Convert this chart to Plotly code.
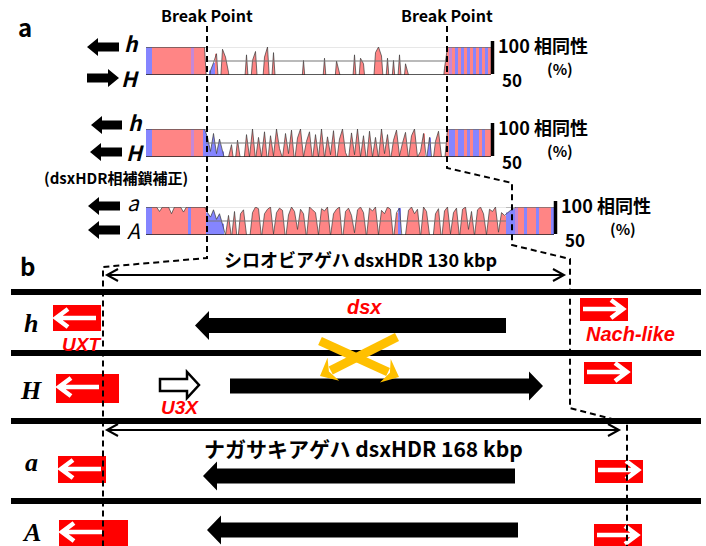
import math
import plotly.graph_objects as go

W, H = 706, 546

# ---------------- data ----------------
# Panel a: sequence identity (%) per ~3 px window: left flank / dsxHDR / right flank
t1_left = [100, 100, 100, 100, 100, 100, 100, 100, 100, 100,
           100, 100, 100, 100, 100, 100, 100, 100, 100, 100]
t1_left_cols = "bbpppppppp pppppmpppp"
t1_mid = [10, 58, 72, 88, 10, 96, 82, 55, 10, 10,
          10, 10, 10, 86, 10, 76, 92, 10, 10, 82,
          100, 10, 90, 10, 10, 10, 10, 10, 10, 10,
          10, 10, 76, 10, 10, 10, 10, 10, 10, 80,
          10, 10, 10, 75, 10, 10, 10, 10, 10, 86,
          10, 80, 70, 10, 10, 10, 90, 100, 84, 10,
          80, 10, 76, 10, 86, 10, 70, 10, 10, 10,
          10, 10, 10, 10, 10, 10, 10, 10, 10, 62]
t1_mid_cols = "pbbppppppp pppppppppp pppppppppp pppppppppp pppppppppp pppppppppp pppppppppp pppppppppp"
t1_right = [100, 100, 100, 100, 100, 100, 100, 100, 100, 100, 100, 100, 100, 100, 100]
t1_right_cols = "pmpbpbpbpbpbpbp"

t2_left = [100, 100, 100, 100, 100, 100, 100, 100, 100, 100,
           100, 100, 100, 100, 100, 100, 100, 100, 100, 100]
t2_left_cols = "bbpppppppp pppppmpppb"
t2_mid = [85, 60, 92, 56, 82, 60, 40, 50, 72, 30,
          80, 45, 35, 90, 50, 100, 45, 85, 50, 95,
          40, 88, 52, 100, 65, 48, 92, 56, 98, 42,
          84, 100, 50, 78, 95, 45, 90, 50, 100, 48,
          86, 54, 97, 40, 82, 100, 58, 46, 93, 54,
          100, 50, 88, 42, 96, 50, 85, 48, 100, 56,
          90, 44, 80, 98, 52, 75, 94, 47, 88, 100,
          50, 60, 92, 45, 85, 35, 78, 96, 50, 40]
t2_mid_cols = "bbbbbbpppp pppppppppp pppppppppp pppppppppp pppppppppp pppppppppp pppppppppp pppbbppppp"
t2_right = [100, 100, 100, 100, 100, 100, 100, 100, 100, 100, 100, 100, 100, 100, 100]
t2_right_cols = "pbbpbbpbpbbpbpp"

t3_left = [100, 100, 100, 100, 92, 100, 100, 100, 88, 100,
           100, 100, 91, 100, 100, 100, 100, 100, 100, 100]
t3_left_cols = "bbpppppppp ppppbppppp"
t3_mid = [90, 82, 95, 78, 88, 70, 50, 85, 45, 92,
          35, 88, 95, 50, 40, 90, 100, 97, 45, 88,
          96, 100, 52, 90, 98, 94, 42, 86, 100, 92,
          60, 96, 88, 45, 100, 95, 90, 50, 97, 93,
          100, 48, 88, 96, 100, 40, 92, 98, 85, 54,
          95, 100, 90, 46, 98, 93, 100, 50, 94, 88,
          100, 96, 42, 90, 98, 35, 50, 94, 100, 88,
          96, 45, 100, 92, 50, 35, 88, 97, 40, 93,
          100, 52, 90, 98, 45, 96, 100, 60, 92, 48,
          95, 100, 88, 50, 96, 92, 100, 55, 90, 85]
t3_mid_cols = "bbbbbbpppp pppppppppp pppppppppp pppppppppp pppppppppp pppppppppp ppppbppppp pppppppppp pppppppppp pppppppppp"
t3_right = [90, 94, 97, 100, 100, 100, 100, 100, 100, 100, 100, 100, 100, 100, 100, 100]
t3_right_cols = "bbbmppbpppbppppb"

track_left_labels = [("h", "H"), ("h", "H"), ("a", "A")]

# Panel b: gene schematic (positions along the drawn genome axis)
row_names = ["h", "H", "a", "A"]
dsx_tail = [506, 230, 515, 518]
dsx_tip = [195, 543, 203, 207]
uxt_start = [53, 56, 58, 59]
uxt_end = [101, 119, 106, 128]
nach_start = [580, 584, 595, 594]
nach_end = [628, 632, 643, 642]
hdr_130 = (107, 564)
hdr_168 = (107, 619)

# ---------------- styles ----------------
PINK, BLUE, MAUVE = "#FF8585", "#8585FF", "#C488D8"
col_map = {"p": PINK, "b": BLUE, "m": MAUVE}
RED = "#FF0000"
YEL = "#FFC000"
JP = "Noto Sans CJK JP"
ARIAL = "Liberation Sans"

fig = go.Figure()
fig.add_trace(go.Scatter(x=[0], y=[0], mode="markers", marker=dict(opacity=0),
                         hoverinfo="skip", showlegend=False))

shapes = []
annots = []


def txt(x, y, s, size=14, color="black", family=JP, xanchor="center", yanchor="middle"):
    annots.append(dict(x=x, y=y, xref="x", yref="y", text=s, showarrow=False,
                       font=dict(size=size, color=color, family=family),
                       xanchor=xanchor, yanchor=yanchor))


def path(d, fill=None, color="black", width=0, dash=None, layer="above"):
    sh = dict(type="path", path=d, xref="x", yref="y", layer=layer,
              line=dict(color=color, width=width))
    if fill:
        sh["fillcolor"] = fill
    if dash:
        sh["line"]["dash"] = dash
    shapes.append(sh)


def block_arrow(x_tail, x_tip, y, bh, hh, hl):
    d = 1 if x_tip > x_tail else -1
    xb = x_tip - d * hl
    return (f"M{x_tail},{y-bh} L{xb},{y-bh} L{xb},{y-hh} L{x_tip},{y} "
            f"L{xb},{y+hh} L{xb},{y+bh} L{x_tail},{y+bh} Z")


def vhead(x_tip, y, d, L=10, hw=5):
    return f"M{x_tip - d*L},{y-hw} L{x_tip},{y} L{x_tip - d*L},{y+hw}"


# ---------------- panel a tracks ----------------
tracks = [
    (t1_left, t1_mid, t1_right, t1_left_cols + t1_mid_cols + t1_right_cols, 146, 47, 75),
    (t2_left, t2_mid, t2_right, t2_left_cols + t2_mid_cols + t2_right_cols, 146, 129, 157),
    (t3_left, t3_mid, t3_right, t3_left_cols + t3_mid_cols + t3_right_cols, 146, 207, 235),
]
BIN = 3
layout_axes = {}
for k, (L, M, R, cols, px0, ptop, pbot) in enumerate(tracks):
    ax = k + 2
    vals = L + M + R
    cols = cols.replace(" ", "")
    n = len(vals)
    px1 = px0 + n * BIN
    xr, yr = f"x{ax}", f"y{ax}"
    nl, nm = len(L), len(M)
    shapes.append(dict(type="line", xref=xr, yref=yr, x0=nl, x1=nl + nm, y0=100, y1=100,
                       line=dict(color="#d0d0d0", width=1), layer="below"))
    i = 0
    while i < n:
        j = i
        while j + 1 < n and cols[j + 1] == cols[i]:
            j += 1
        xs = [i] + [t + 0.5 for t in range(i, j + 1)] + [j + 1]
        ys = [vals[i]] + vals[i:j + 1] + [vals[j]]
        fig.add_trace(go.Scatter(x=xs, y=ys, mode="lines", fill="tozeroy",
                                 fillcolor=col_map[cols[i]], line=dict(width=0),
                                 xaxis=xr, yaxis=yr, showlegend=False, hoverinfo="skip"))
        i = j + 1
    xs = [0] + [t + 0.5 for t in range(n)] + [n]
    ys = [vals[0]] + vals + [vals[-1]]
    fig.add_trace(go.Scatter(x=xs, y=ys, mode="lines", line=dict(color="#3a3a3a", width=0.7),
                             xaxis=xr, yaxis=yr, showlegend=False, hoverinfo="skip"))
    layout_axes[f"xaxis{ax}"] = dict(domain=[px0 / W, px1 / W], range=[0, n], visible=False,
                                     anchor=yr, fixedrange=True)
    layout_axes[f"yaxis{ax}"] = dict(domain=[1 - pbot / H, 1 - ptop / H], range=[50, 100],
                                     visible=False, anchor=xr, fixedrange=True)
    shapes.append(dict(type="line", xref=xr, yref=yr, x0=nl, x1=nl + nm, y0=75, y1=75,
                       line=dict(color="#777777", width=1.2)))
    shapes.append(dict(type="line", xref=xr, yref=yr, x0=0, x1=nl, y0=100, y1=100,
                       line=dict(color="#555555", width=1.2)))
    shapes.append(dict(type="line", xref=xr, yref=yr, x0=nl + nm, x1=n, y0=100, y1=100,
                       line=dict(color="#777777", width=1)))
    shapes.append(dict(type="line", xref=xr, yref=yr, x0=0, x1=n, y0=50, y1=50,
                       line=dict(color="#222222", width=1.5)))
    shapes.append(dict(type="line", xref="x", yref="y", x0=px1 + 1.5, x1=px1 + 1.5,
                       y0=ptop - 6, y1=pbot - 1, line=dict(color="black", width=3.5)))
    txt(px1 + 5, ptop - 2, "<b>100 相同性</b>", size=18, xanchor="left")
    txt(px1 + 69, ptop + 21, "<b>(%)</b>", size=15)
    txt(px1 + 21, pbot + 4, "<b>50</b>", size=17)

a_arrows = [
    [(119, 87, 47), (87, 119, 78)],
    [(122, 91, 125), (122, 90, 152)],
    [(120, 88, 206), (120, 88, 230)],
]
a_lab_pos = [[(131, 43), (130, 78)], [(135, 122), (135, 152)], [(133, 202), (133, 230)]]
for k in range(3):
    for j in range(2):
        xt, xp, y = a_arrows[k][j]
        path(block_arrow(xt, xp, y, 4.5, 9, 11), fill="black")
        lx, ly = a_lab_pos[k][j]
        lab = track_left_labels[k][j]
        s = f"<b><i>{lab}</i></b>" if k < 2 else f"<i>{lab}</i>"
        txt(lx, ly, s, size=21)

txt(42, 177, "<b>(dsxHDR相補鎖補正)</b>", size=15, xanchor="left")
txt(25, 26, "<b>a</b>", size=24)
txt(27, 265, "<b>b</b>", size=24)
txt(207, 15, "<b>Break Point</b>", size=16)
txt(447, 15, "<b>Break Point</b>", size=16)

# ---------------- panel b ----------------
for y in [292, 353, 421, 501]:
    shapes.append(dict(type="line", xref="x", yref="y", x0=11, x1=701, y0=y, y1=y,
                       line=dict(color="black", width=6)))

row_y = {"dsx": [325.5, 386, 476, 530],
         "uxt": [(305, 331, 318), (374, 403, 387), (456, 483, 469), (520, 546, 532)],
         "nach": [(298, 321, 309), (362, 384, 372), (460, 483, 470), (524, 546, 535)]}
for r in range(4):
    path(block_arrow(dsx_tail[r], dsx_tip[r], row_y["dsx"][r], 7.5, 14.5, 14), fill="black")
    y0, y1, ya = row_y["uxt"][r]
    shapes.append(dict(type="rect", xref="x", yref="y", x0=uxt_start[r], x1=uxt_end[r],
                       y0=y0, y1=y1, fillcolor=RED, line=dict(width=0)))
    tip = uxt_start[r] + 3
    path(f"M{tip + 40},{ya} L{tip + 2},{ya} " + vhead(tip, ya, -1, 12, 9), color="white", width=4.5)
    y0, y1, ya = row_y["nach"][r]
    shapes.append(dict(type="rect", xref="x", yref="y", x0=nach_start[r], x1=nach_end[r],
                       y0=y0, y1=y1, fillcolor=RED, line=dict(width=0)))
    tip = nach_start[r] + 43
    path(f"M{nach_start[r] + 3},{ya} L{tip - 2},{ya} " + vhead(tip, ya, 1, 12, 9), color="white", width=4.5)
    txt(31, [323, 390, 462, 532][r], f"<b><i>{row_names[r]}</i></b>", size=26, family="Liberation Serif")

path(block_arrow(160, 199, 385, 6, 13, 12), fill="white", color="black", width=2.5)

for (xa, ya, xb, yb) in [(320, 341, 399, 377), (397, 337, 320, 376)]:
    dx, dy = xb - xa, yb - ya
    ln = math.hypot(dx, dy)
    ux, uy = dx / ln, dy / ln
    nx, ny = -uy, ux
    bx, by = xb - ux * 15, yb - uy * 15
    shapes.append(dict(type="line", xref="x", yref="y", x0=xa, y0=ya, x1=bx + ux * 3, y1=by + uy * 3,
                       line=dict(color=YEL, width=9)))
    path(f"M{xb},{yb} L{bx + nx * 13},{by + ny * 13} L{bx + ux * 5},{by + uy * 5} "
         f"L{bx - nx * 13},{by - ny * 13} Z", fill=YEL)

for (xa, xb), y in [(hdr_130, 275), (hdr_168, 430)]:
    shapes.append(dict(type="line", xref="x", yref="y", x0=xa + 1, x1=xb - 1, y0=y, y1=y,
                       line=dict(color="black", width=2)))
    path(vhead(xa, y, -1, 11, 6), color="black", width=2)
    path(vhead(xb, y, 1, 11, 6), color="black", width=2)

txt(222, 259, "<b>シロオビアゲハ dsxHDR 130 kbp</b>", size=18, xanchor="left")
txt(202, 448, "<b>ナガサキアゲハ dsxHDR 168 kbp</b>", size=21, xanchor="left")

txt(364, 307, "<b><i>dsx</i></b>", size=20, color=RED, family=ARIAL)
txt(81, 344, "<b><i>UXT</i></b>", size=19, color=RED, family=ARIAL)
txt(630, 334, "<b><i>Nach-like</i></b>", size=20, color=RED, family=ARIAL)
txt(180, 407, "<b><i>U3X</i></b>", size=19, color=RED, family=ARIAL)

left_bp = [(207, 26), (207, 258), (103, 267), (103, 546)]
right_bp = [(447, 26), (447, 168), (512, 183), (512, 245), (570, 259), (570, 408), (627, 423), (627, 546)]
for pts in [left_bp, right_bp]:
    d = "M" + " L".join(f"{x},{y}" for x, y in pts)
    path(d, color="black", width=2, dash="6px,4px")

fig.update_layout(
    width=W, height=H, margin=dict(l=0, r=0, t=0, b=0),
    paper_bgcolor="white", plot_bgcolor="rgba(0,0,0,0)",
    xaxis=dict(range=[0, W], domain=[0, 1], visible=False, fixedrange=True),
    yaxis=dict(range=[H, 0], domain=[0, 1], visible=False, fixedrange=True),
    showlegend=False, shapes=shapes, annotations=annots,
    **layout_axes,
)

fig.write_html("out.html", config={"displayModeBar": False},
               post_script="document.body.style.margin='0';")
